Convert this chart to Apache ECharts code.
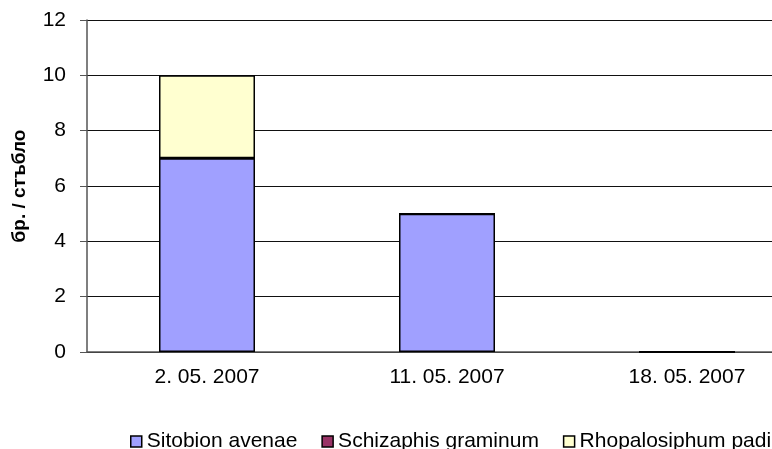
<!DOCTYPE html>
<html>
<head>
<meta charset="utf-8">
<script src="https://cdn.jsdelivr.net/npm/echarts@6/dist/echarts.min.js"></script>
<style>
  html, body { margin: 0; padding: 0; background: #fff; overflow: hidden; }
  /* the plot runs past the right edge of the picture, as in the original */
  #chart { width: 808px; height: 449px; }
</style>
</head>
<body>
<div id="chart"></div>
<script>
  var categories = ['2. 05. 2007', '11. 05. 2007', '18. 05. 2007']
  var sitobion = [7, 5, 0]
  var schizaphis = [0, 0, 0]
  var rhopalosiphum = [3, 0, 0]
  var yTicks = [0, 2, 4, 6, 8, 10, 12]

  var barBorder = { borderColor: '#000', borderWidth: 1.5 }

  var myEcharts = echarts.init(document.getElementById('chart'))
  myEcharts.setOption({
    animation: false,
    textStyle: { fontFamily: 'Liberation Sans, Arial, sans-serif' },
    legend: {
      left: 130,
      top: 431,
      width: 900,
      padding: 0,
      icon: 'rect',
      itemWidth: 11,
      itemHeight: 11,
      itemGap: 24,
      itemStyle: { borderColor: '#000', borderWidth: 1.5 },
      textStyle: { fontSize: 21, color: '#000', padding: [0, 0, 0, 0] },
      data: ['Sitobion avenae', 'Schizaphis graminum', 'Rhopalosiphum padi']
    },
    grid: { left: 87, top: 20, bottom: 97, right: 1 },
    xAxis: {
      type: 'category',
      data: categories,
      axisLine: { lineStyle: { color: '#555', width: 1.5 } },
      axisTick: { length: 6, lineStyle: { color: '#555' } },
      axisLabel: { fontSize: 21, color: '#000', margin: 15 }
    },
    yAxis: {
      type: 'value',
      min: yTicks[0],
      max: yTicks[yTicks.length - 1],
      interval: 2,
      name: 'бр. / стъбло',
      nameLocation: 'middle',
      nameGap: 58,
      nameTextStyle: { fontSize: 19, fontWeight: 'bold', color: '#000' },
      axisLine: { show: true, lineStyle: { color: '#555', width: 1.5 } },
      axisTick: { show: true, length: 7, lineStyle: { color: '#555' } },
      axisLabel: { fontSize: 21, color: '#000', margin: 21 },
      splitLine: { lineStyle: { color: '#111', width: 1 } }
    },
    series: [
      {
        name: 'Sitobion avenae',
        type: 'bar',
        stack: 'total',
        barWidth: 96,
        itemStyle: Object.assign({ color: '#A0A0FF' }, barBorder),
        data: sitobion
      },
      {
        name: 'Schizaphis graminum',
        type: 'bar',
        stack: 'total',
        barWidth: 96,
        itemStyle: Object.assign({ color: '#993366' }, barBorder),
        data: schizaphis
      },
      {
        name: 'Rhopalosiphum padi',
        type: 'bar',
        stack: 'total',
        barWidth: 96,
        itemStyle: Object.assign({ color: '#FFFFD0' }, barBorder),
        data: rhopalosiphum
      }
    ]
  })
</script>
</body>
</html>
